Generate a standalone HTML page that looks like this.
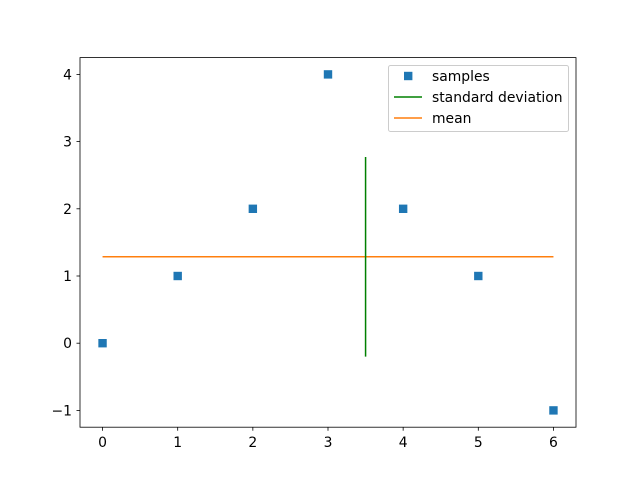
<!DOCTYPE html>
<html><head><meta charset="utf-8"><style>
body{margin:0;background:#fff;}
svg{font-family:"DejaVu Sans","Liberation Sans",sans-serif;}
</style></head><body>
<svg id="chart" width="640" height="480" xmlns="http://www.w3.org/2000/svg">
<rect width="640" height="480" fill="#fff"/>
<g id="plot"></g>
</svg>
<script>
const xValues=[0,1,2,3,4,5,6];
const sampleValues=[0,1,2,4,2,1,-1];
const xTicks=[0,1,2,3,4,5,6];
const yTicks=[-1,0,1,2,3,4];
const stdX=3.5;

const L=80,R=576,T=57.6,B=427.2;
const xmin=-0.3,xmax=6.3,ymin=-1.25,ymax=4.25;
const FS=13.9;
const sx=v=>L+(v-xmin)/(xmax-xmin)*(R-L);
const sy=v=>B-(v-ymin)/(ymax-ymin)*(B-T);
const NS="http://www.w3.org/2000/svg";
const g=document.getElementById('plot');
function mk(tag,attrs,parent){const e=document.createElementNS(NS,tag);for(const k in attrs)e.setAttribute(k,attrs[k]);(parent||g).appendChild(e);return e;}

const n=sampleValues.length;
const mean=sampleValues.reduce((a,b)=>a+b,0)/n;
const std=Math.sqrt(sampleValues.reduce((a,b)=>a+(b-mean)**2,0)/n);

let fr=mk('rect',{x:L,y:T,width:R-L,height:B-T,fill:'none',stroke:'#000','stroke-width':0.8});



xTicks.forEach(t=>{
  let l=mk('line',{x1:sx(t),x2:sx(t),y1:B,y2:B+3.5,stroke:'#000','stroke-width':0.8});
  
  
  let tx=mk('text',{x:sx(t),y:B+20,'font-size':FS,'text-anchor':'middle',fill:'#000'});
  tx.textContent=t;
  
  
});
yTicks.forEach(t=>{
  let l=mk('line',{x1:L-3.5,x2:L,y1:sy(t),y2:sy(t),stroke:'#000','stroke-width':0.8});
  
  
  let tx=mk('text',{x:L-8,y:sy(t)+5,'font-size':FS,'text-anchor':'end',fill:'#000'});
  tx.textContent=t<0?'\u2212'+Math.abs(t):t;
  
  
});

xValues.forEach((x,i)=>{
  let r=mk('rect',{x:sx(x)-4.2,y:sy(sampleValues[i])-4.2,width:8.4,height:8.4,fill:'#1f77b4'});
  
  
});
let ml=mk('line',{x1:sx(xValues[0]),x2:sx(xValues[n-1]),y1:sy(mean),y2:sy(mean),stroke:'#ff7f0e','stroke-width':1.5});


let sl=mk('line',{x1:sx(stdX),x2:sx(stdX),y1:sy(mean-std),y2:sy(mean+std),stroke:'#008000','stroke-width':1.5});



const lg=mk('g',{});


mk('rect',{x:388.5,y:65.5,width:180,height:66,rx:2,fill:'#fff','fill-opacity':0.8,stroke:'#ccc'},lg);
const entries=[['samples','#1f77b4','sq'],['standard deviation','#008000','ln'],['mean','#ff7f0e','ln']];
entries.forEach((e,i)=>{
  const y=76+i*21;
  if(e[2]==='sq'){mk('rect',{x:404,y:y-4.2,width:8.4,height:8.4,fill:e[1]},lg);}
  else mk('line',{x1:394,x2:422,y1:y,y2:y,stroke:e[1],'stroke-width':1.5},lg);
  let t=mk('text',{x:432,y:y+5,'font-size':FS,fill:'#000'},lg);
  t.textContent=e[0];
  
  
});
</script>
</body></html>
